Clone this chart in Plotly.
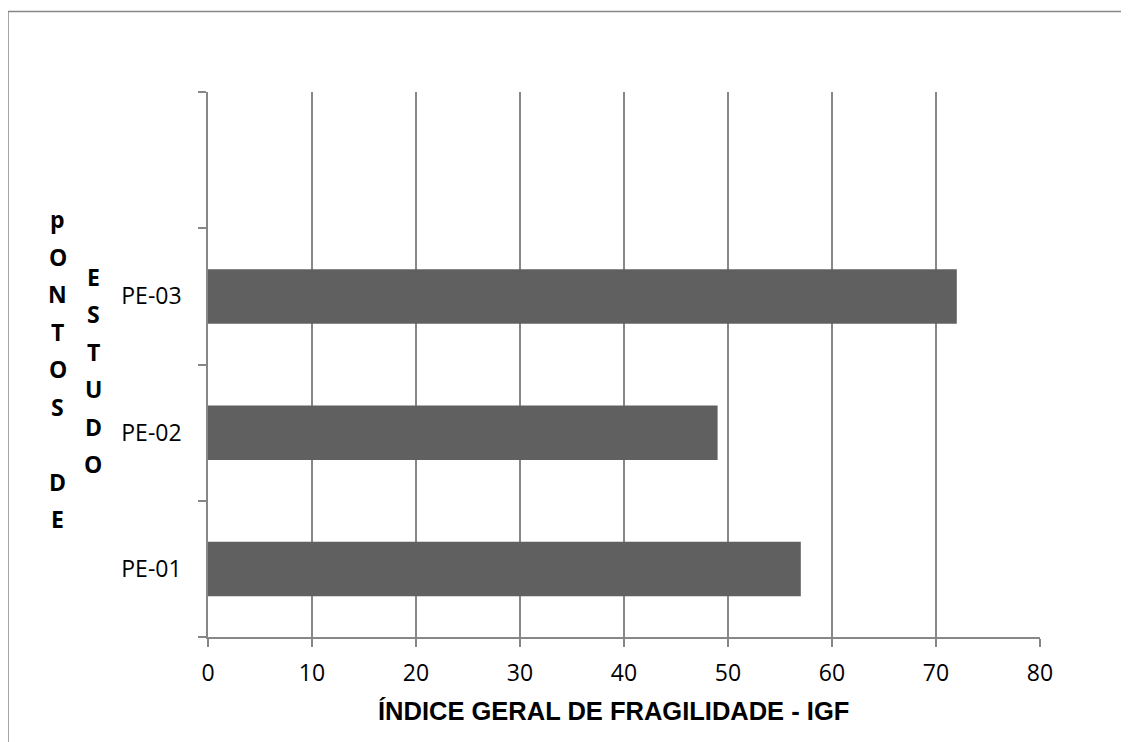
import plotly.graph_objects as go

# ---- data ----
categories = ["PE-01", "PE-02", "PE-03", " "]
igf_values = [57, 49, 72, None]
x_ticks = [0, 10, 20, 30, 40, 50, 60, 70, 80]
x_title = "ÍNDICE GERAL DE FRAGILIDADE - IGF"
y_title_col1 = "pONTOS DE"
y_title_col2 = "ESTUDO"

OX, OY = 8, 8            # page body margin offset
W, H = 1129 - OX, 742 - OY
L, R, T, B = 208 - OX, 1040 - OX, 91.5 - OY, 637 - OY   # plot area in figure pixels
pw, ph = R - L, B - T

def px(x):
    return (x - OX - L) / pw

def py(y):
    return (B - (y - OY)) / ph

grey = "#878787"

fig = go.Figure()
fig.add_trace(go.Bar(
    y=categories, x=igf_values, orientation="h",
    marker=dict(color="#606060", line=dict(width=0)),
    hoverinfo="x+y",
))

annotations = []
annotations.append(dict(
    text=x_title, xref="paper", yref="paper", x=px(613.5), y=py(711),
    xanchor="center", yanchor="middle", showarrow=False,
    font=dict(family="Liberation Sans", size=25.5, color="#000000", weight="bold"),
))
step = 37.5
for i, ch in enumerate(y_title_col1):
    if ch.strip():
        annotations.append(dict(
            text=ch, xref="paper", yref="paper", x=px(57.5), y=py(219 + i * step),
            xanchor="center", yanchor="middle", showarrow=False,
            font=dict(family="Open Sans", size=23, color="#000000", weight="bold"),
        ))
for i, ch in enumerate(y_title_col2):
    if ch.strip():
        annotations.append(dict(
            text=ch, xref="paper", yref="paper", x=px(93), y=py(276.5 + i * step),
            xanchor="center", yanchor="middle", showarrow=False,
            font=dict(family="Open Sans", size=23, color="#000000", weight="bold"),
        ))

shapes = [
    dict(type="line", xref="paper", yref="paper", x0=px(8), x1=px(8), y0=py(11), y1=py(760),
         line=dict(color=grey, width=1.5)),
    dict(type="line", xref="paper", yref="paper", x0=px(8), x1=px(1140), y0=py(11), y1=py(11),
         line=dict(color=grey, width=1.5)),
]

fig.update_layout(
    width=W, height=H,
    margin=dict(l=L, r=W - R, t=T, b=H - B),
    paper_bgcolor="white", plot_bgcolor="white",
    showlegend=False,
    bargap=0.6,
    annotations=annotations,
    shapes=shapes,
    font=dict(family="Open Sans", size=23, color="#000000"),
    xaxis=dict(
        range=[0, 80], tickvals=x_ticks, showgrid=True, gridcolor=grey, gridwidth=1.6,
        showline=True, linecolor=grey, linewidth=1.6,
        ticks="outside", ticklen=8, tickcolor=grey, tickwidth=1.6,
        ticklabelstandoff=7, zeroline=False,
        tickfont=dict(family="Open Sans", size=23, color="#000000"),
    ),
    yaxis=dict(
        type="category", categoryorder="array", categoryarray=categories,
        range=[-0.5, 3.5], tickson="boundaries",
        showgrid=False, showline=True, linecolor=grey, linewidth=1.6,
        ticks="outside", ticklen=8, tickcolor=grey, tickwidth=1.6,
        ticklabelstandoff=20, zeroline=False,
        tickfont=dict(family="Open Sans", size=23, color="#000000"),
    ),
)

fig.write_html("out.html")
